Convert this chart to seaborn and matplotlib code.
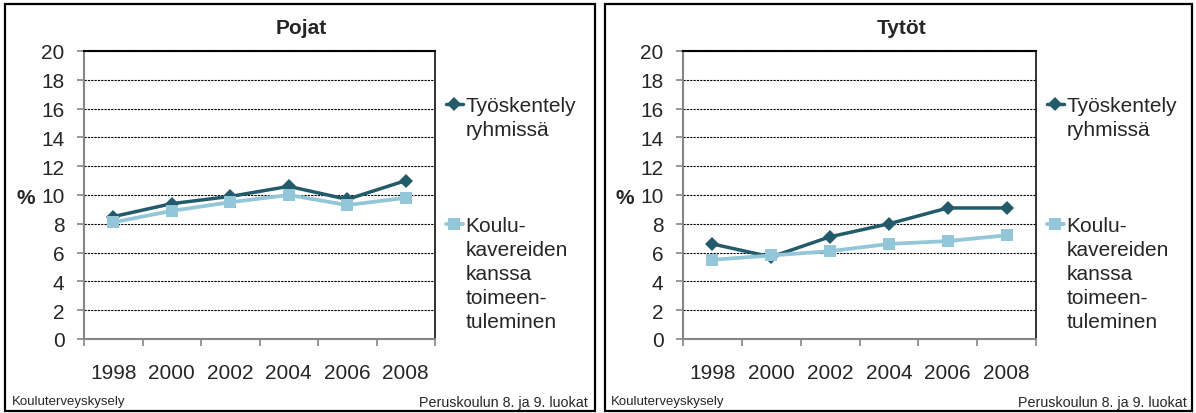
import numpy as np
import pandas as pd
import matplotlib
matplotlib.use('Agg')
import matplotlib.pyplot as plt
from matplotlib.lines import Line2D
from matplotlib.patches import Rectangle
import seaborn as sns

# data
years = [1998, 2000, 2002, 2004, 2006, 2008]
pojat_ryhmissa = [8.5, 9.4, 9.9, 10.6, 9.7, 11.0]
pojat_koulukaverit = [8.1, 8.9, 9.5, 10.0, 9.3, 9.8]
tytot_ryhmissa = [6.6, 5.7, 7.1, 8.0, 9.1, 9.1]
tytot_koulukaverit = [5.5, 5.8, 6.1, 6.6, 6.8, 7.2]

panel_titles = ['Pojat', 'Tytöt']
legend_rows_1 = ['Työskentely', 'ryhmissä']
legend_rows_2 = ['Koulu-', 'kavereiden', 'kanssa', 'toimeen-', 'tuleminen']
yticks = list(range(0, 21, 2))

dark = '#235B6A'
light = '#93C6D8'

sns.set_style('white')
plt.rcParams['font.family'] = ['Liberation Sans', 'DejaVu Sans']

fig = plt.figure(figsize=(11.96, 4.14), dpi=100)
W, H = 1196, 414

# panel frames
for x0, x1 in [(5, 595), (605, 1192)]:
    fig.patches.append(Rectangle((x0 / W, 1 - 412 / H), (x1 - x0) / W, (412 - 5) / H,
                                 transform=fig.transFigure, fill=False,
                                 edgecolor='black', linewidth=1.6))

axes_px = [(84, 435), (683, 1036)]
data = [(pojat_ryhmissa, pojat_koulukaverit), (tytot_ryhmissa, tytot_koulukaverit)]
foot_px = [(12, 588), (611, 1187)]

for i in range(2):
    l, r = axes_px[i]
    ax = fig.add_axes([l / W, 1 - 340 / H, (r - l) / W, 288 / H])
    s1, s2 = data[i]
    sns.lineplot(x=years, y=s1, ax=ax, color=dark, marker='D', markersize=7,
                 markeredgewidth=0, linewidth=2.5)
    sns.lineplot(x=years, y=s2, ax=ax, color=light, marker='s', markersize=8.5,
                 markeredgewidth=0, linewidth=2.7)

    ax.set_xlim(1997, 2009)
    ax.set_ylim(0, 20)
    ax.set_yticks(yticks)
    ax.set_xticks(np.arange(1997, 2010, 2))
    ax.set_xticks(years, minor=True)
    ax.set_xticklabels([])
    ax.set_xticklabels([str(y) for y in years], minor=True)
    ax.tick_params(axis='x', which='major', direction='out', length=5, width=1.2,
                   color='#868686', bottom=True)
    ax.tick_params(axis='x', which='minor', length=0, pad=17, labelsize=15)
    ax.tick_params(axis='y', direction='out', length=5, width=1.2, color='#868686',
                   left=True, pad=9, labelsize=15)

    ax.grid(axis='y', color='black', linestyle=(0, (2, 1)), linewidth=0.8)
    ax.grid(axis='x', visible=False)
    ax.set_axisbelow(True)
    for side in ['left', 'bottom']:
        ax.spines[side].set_color('#868686')
        ax.spines[side].set_linewidth(1.5)
    ax.spines['top'].set_color('black')
    ax.spines['top'].set_linewidth(1.5)
    ax.spines['right'].set_color('#222222')
    ax.spines['right'].set_linewidth(1.3)

    ax.set_title(panel_titles[i], fontsize=15, fontweight='bold', x=0.62, pad=13)
    ax.set_ylabel('%', rotation=0, fontsize=15, fontweight='bold',
                  ha='center', va='center')
    ax.yaxis.set_label_coords(-0.165, 0.49)

    # legend with one row per text line, handle on the first line
    h1, h2 = ax.lines[0], ax.lines[1]
    blank = Line2D([], [], alpha=0)
    handles = [h1, blank] + [blank] * 3 + [h2] + [blank] * 4
    labels = legend_rows_1 + [' '] * 3 + legend_rows_2
    ax.legend(handles, labels, loc='upper left', bbox_to_anchor=(1.03, 0.843),
              frameon=False, fontsize=15, handlelength=0.85, handletextpad=0.1,
              labelspacing=0.24, borderpad=0, borderaxespad=0)

    fl, fr = foot_px[i]
    fig.text(fl / W, 1 - 402 / H, 'Kouluterveyskysely', fontsize=9.5, va='center')
    fig.text(fr / W, 1 - 403 / H, 'Peruskoulun 8. ja 9. luokat', fontsize=10.3,
             va='center', ha='right')

fig.savefig('out.png', dpi=100)
